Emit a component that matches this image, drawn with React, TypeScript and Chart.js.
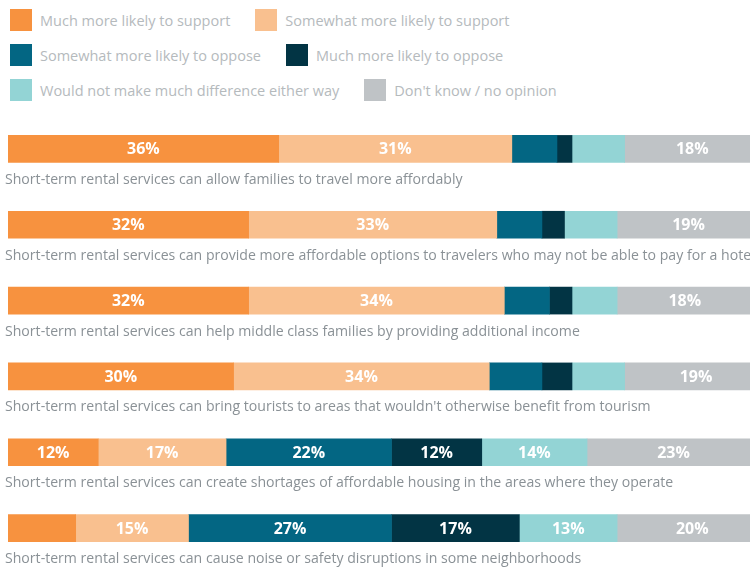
import { useEffect, useRef } from 'react'
import { Chart, registerables, Plugin } from 'chart.js'

Chart.register(...registerables)

const categories = [
  'Short-term rental services can allow families to travel more affordably',
  'Short-term rental services can provide more affordable options to travelers who may not be able to pay for a hotel',
  'Short-term rental services can help middle class families by providing additional income',
  "Short-term rental services can bring tourists to areas that wouldn't otherwise benefit from tourism",
  'Short-term rental services can create shortages of affordable housing in the areas where they operate',
  'Short-term rental services can cause noise or safety disruptions in some neighborhoods',
]

const seriesNames = [
  'Much more likely to support',
  'Somewhat more likely to support',
  'Somewhat more likely to oppose',
  'Much more likely to oppose',
  'Would not make much difference either way',
  "Don't know / no opinion",
]

const muchSupport = [36, 32, 32, 30, 12, 9]
const someSupport = [31, 33, 34, 34, 17, 15]
const someOppose = [6, 6, 6, 7, 22, 27]
const muchOppose = [2, 3, 3, 4, 12, 17]
const noDifference = [7, 7, 6, 7, 14, 13]
const dontKnow = [18, 19, 18, 19, 23, 20]

const colors = ['#f7923f', '#f9c08f', '#036683', '#023444', '#93d4d5', '#bfc3c6']

const FONT = '"Open Sans", "Noto Sans", sans-serif'

// white % labels inside the wider segments, grey statement under each bar
const barText: Plugin<'bar'> = {
  id: 'barText',
  afterDatasetsDraw(chart) {
    const { ctx } = chart
    ctx.save()
    ctx.textAlign = 'center'
    ctx.textBaseline = 'middle'
    ctx.fillStyle = '#ffffff'
    ctx.font = `bold 16px ${FONT}`
    chart.data.datasets.forEach((ds, di) => {
      const meta = chart.getDatasetMeta(di)
      meta.data.forEach((el: any, i) => {
        const v = ds.data[i] as number
        if (v < 10) return
        const cx = (el.x + el.base) / 2
        ctx.fillText(`${v}%`, cx, el.y + 1)
      })
    })
    ctx.textAlign = 'left'
    ctx.fillStyle = '#8a9196'
    ctx.font = `14.1px ${FONT}`
    const yScale = chart.scales.y
    categories.forEach((c, i) => {
      ctx.fillText(c, 8, yScale.getPixelForValue(i) + 31)
    })
    ctx.restore()
  },
}

export default function App() {
  const canvasRef = useRef<HTMLCanvasElement>(null)

  useEffect(() => {
    if (!canvasRef.current) return
    const values = [muchSupport, someSupport, someOppose, muchOppose, noDifference, dontKnow]
    const chart = new Chart(canvasRef.current, {
      type: 'bar',
      data: {
        labels: categories,
        datasets: seriesNames.map((name, i) => ({
          label: name,
          data: values[i],
          backgroundColor: colors[i],
          borderWidth: 0,
          barThickness: 27,
        })),
      },
      options: {
        indexAxis: 'y',
        animation: false,
        responsive: false,
        maintainAspectRatio: false,
        layout: { padding: { left: 11, right: 0, top: 0, bottom: 5 } },
        scales: {
          x: { stacked: true, min: 0, max: 100, display: false },
          y: { stacked: true, display: false },
        },
        plugins: {
          legend: { display: false },
          tooltip: { enabled: false },
        },
      },
      plugins: [barText],
    })
    return () => chart.destroy()
  }, [])

  const legendRows = [
    [0, 1],
    [2, 3],
    [4, 5],
  ]

  return (
    <div
      style={{
        position: 'fixed',
        left: 0,
        top: 0,
        width: 750,
        height: 570,
        overflow: 'hidden',
        background: '#fff',
        fontFamily: FONT,
      }}
    >
      <div style={{ position: 'absolute', left: 10, top: 9 }}>
        {legendRows.map((row, r) => (
          <div key={r} style={{ display: 'flex', alignItems: 'center', height: 22, marginBottom: 13 }}>
            {row.map(i => (
              <div key={i} style={{ display: 'flex', alignItems: 'center', marginRight: 25 }}>
                <span style={{ width: 22, height: 22, background: colors[i], marginRight: 8, display: 'inline-block' }} />
                <span style={{ color: '#b5babd', fontSize: 14.5, whiteSpace: 'nowrap' }}>{seriesNames[i]}</span>
              </div>
            ))}
          </div>
        ))}
      </div>
      <canvas
        ref={canvasRef}
        width={763}
        height={460}
        style={{ position: 'absolute', left: -3, top: 111 }}
      />
    </div>
  )
}
